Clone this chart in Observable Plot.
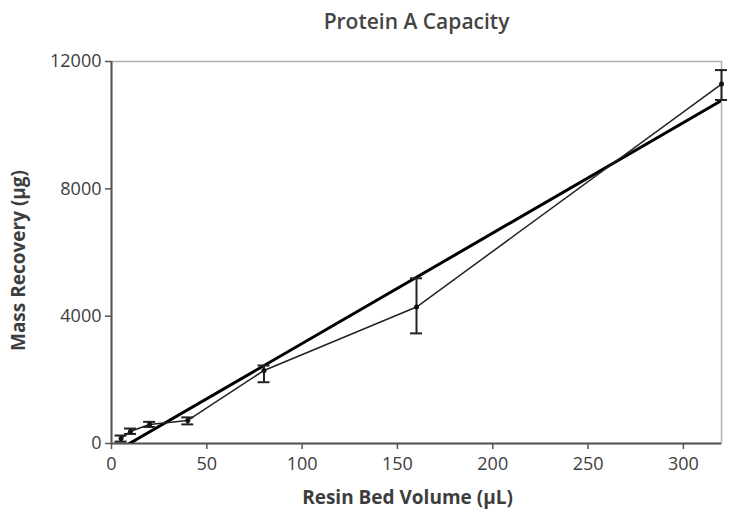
<!DOCTYPE html>
<html>
<head>
<meta charset="utf-8">
<script src="https://cdn.jsdelivr.net/npm/d3@7"></script>
<script src="https://cdn.jsdelivr.net/npm/@observablehq/plot@0.6"></script>
<style>
  html, body { margin: 0; padding: 0; background: #fff; }
  svg { display: block; }
</style>
</head>
<body>
<div id="chart"></div>
<script>
const volume = [5, 10, 20, 40, 80, 160, 320];
const recovery = [157, 387, 597, 723, 2295, 4286, 11290];
const errLow = [60, 300, 520, 600, 1925, 3459, 10790];
const errHigh = [250, 470, 680, 820, 2450, 5190, 11730];
const xTicks = [0, 50, 100, 150, 200, 250, 300];
const yTicks = [0, 4000, 8000, 12000];
const title = "Protein A Capacity";
const xLabel = "Resin Bed Volume (µL)";
const yLabel = "Mass Recovery (µg)";

const data = volume.map((v, i) => ({x: v, y: recovery[i], lo: errLow[i], hi: errHigh[i]}));
const font = "'Open Sans', sans-serif";
const textColor = "#3d3d3d";

const chart = Plot.plot({
  width: 735,
  height: 514,
  marginLeft: 111,
  marginRight: 14,
  marginTop: 61,
  marginBottom: 71,
  style: {fontFamily: font, background: "#fff"},
  x: {type: "linear", domain: [0, 320]},
  y: {type: "linear", domain: [0, 12000]},
  marks: [
    Plot.frame({stroke: "#b0b0b0", strokeWidth: 1.5}),
    Plot.ruleY([0], {stroke: "#555", strokeWidth: 2}),
    Plot.ruleX([0], {stroke: "#555", strokeWidth: 2}),
    Plot.axisX({ticks: xTicks, tickSize: 6, tickPadding: 8, fontSize: 18, stroke: "#555", strokeWidth: 1.5, fill: textColor, label: null, tickFormat: d => String(d)}),
    Plot.axisY({ticks: yTicks, tickSize: 6, tickPadding: 4, fontSize: 18, stroke: "#555", strokeWidth: 1.5, fill: textColor, label: null, tickFormat: d => String(d)}),
    Plot.linearRegressionY(data, {x: "x", y: "y", ci: 0, stroke: "#000", strokeWidth: 3, clip: true}),
    Plot.line(data, {x: "x", y: "y", stroke: "#222", strokeWidth: 1.5}),
    Plot.ruleX(data, {x: "x", y1: "lo", y2: "hi", stroke: "#222", strokeWidth: 2}),
    Plot.ruleY(data, {y: "lo", x1: "x", x2: "x", insetLeft: -6, insetRight: -6, stroke: "#222", strokeWidth: 2}),
    Plot.ruleY(data, {y: "hi", x1: "x", x2: "x", insetLeft: -6, insetRight: -6, stroke: "#222", strokeWidth: 2}),
    Plot.dot(data, {x: "x", y: "y", r: 2.5, fill: "#111"}),
    Plot.text([title], {frameAnchor: "top", lineAnchor: "middle", textAnchor: "middle", dy: -39, fontSize: 21, fontWeight: 600, fill: "#444", text: d => d}),
    Plot.text([xLabel], {frameAnchor: "bottom", lineAnchor: "middle", textAnchor: "middle", dx: -9, dy: 54, fontSize: 19, fontWeight: "bold", fill: textColor, text: d => d}),
    Plot.text([yLabel], {frameAnchor: "left", lineAnchor: "middle", textAnchor: "middle", dx: -93, dy: 8, rotate: -90, fontSize: 19, fontWeight: "bold", fill: textColor, text: d => d})
  ]
});

document.getElementById("chart").appendChild(chart);
</script>
</body>
</html>
